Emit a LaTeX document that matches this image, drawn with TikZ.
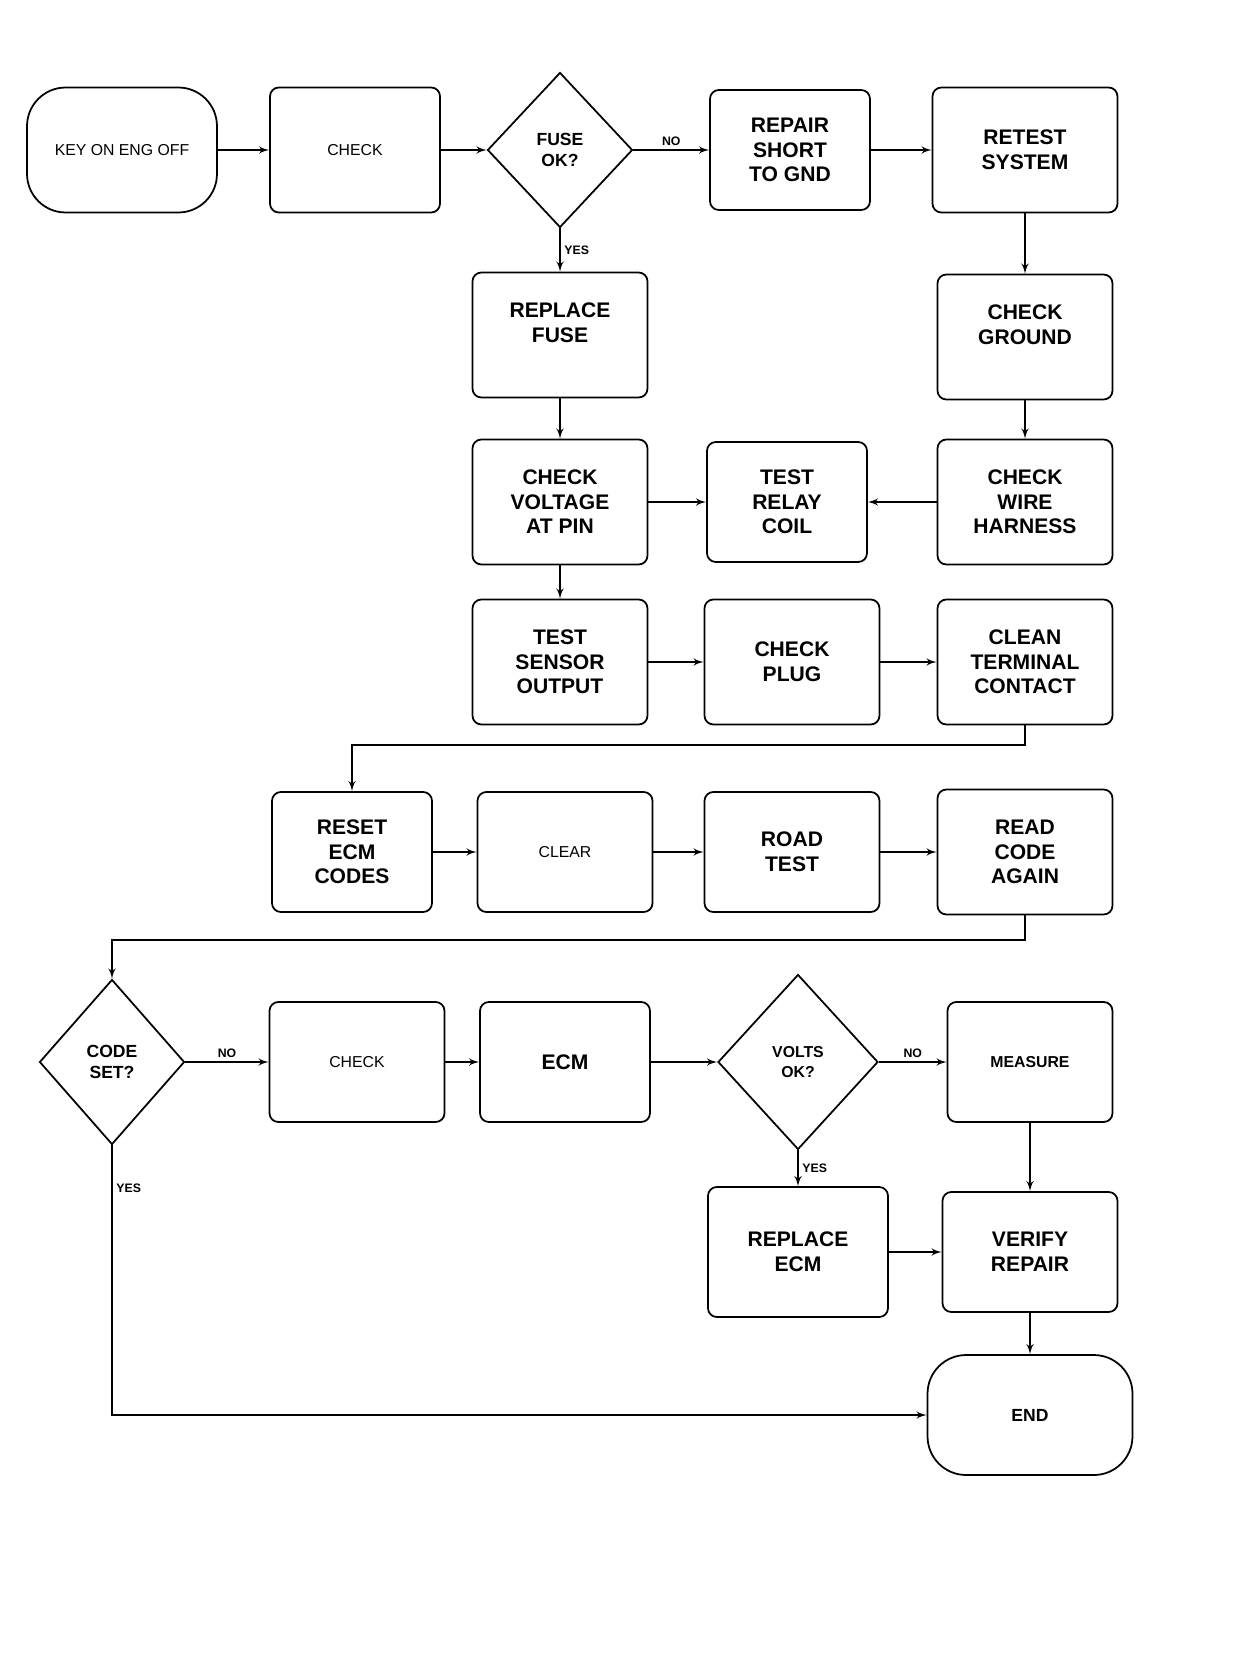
\documentclass[tikz,border=0pt]{standalone}
\usepackage{fontspec}
\setsansfont{Liberation Sans}
\usetikzlibrary{positioning,arrows,shapes.geometric}
\tikzset{
    block/.style = {
        draw,
        shape=rectangle,
        rounded corners=5pt,
        minimum height=2.5cm,
        minimum width=3.5cm,
        line width=1pt,
        align=center,
        font=\sffamily\bfseries\large
    },
    narrow/.style = {
        block,
        minimum width=3.2cm,
        minimum height=2.4cm
    },
    lightblock/.style = {
        block,
        font=\sffamily\small
    },
    terminal/.style = {
        block,
        rounded corners=22pt,
        minimum width=3.8cm,
        minimum height=2.5cm,
        font=\sffamily\bfseries
    },
    decision/.style = {
        draw,
        shape=diamond,
        minimum width=2.9cm,
        minimum height=3.1cm,
        inner sep=0pt,
        line width=1pt,
        align=center,
        font=\sffamily\bfseries
    },
    lbl/.style = {
        font=\sffamily\bfseries\scriptsize,
        inner sep=2pt
    },
    >=latex',
}
\begin{document}
\begin{tikzpicture}[x=0.02cm, y=-0.02cm]
    \useasboundingbox (0,0) rectangle (1257,1673);

    % first row
    \node[terminal, font=\sffamily\small] (keyon) at (122,150) {KEY ON  ENG OFF};
    \node[lightblock, minimum width=3.4cm] (look) at (355,150) {CHECK};
    \node[decision] (okone) at (560,150) {FUSE\\OK?};
    \node[narrow] (repair) at (790,150) {REPAIR\\SHORT\\TO GND};
    \node[block, minimum width=3.7cm] (retest) at (1025,150) {RETEST\\SYSTEM};

    % column under first decision
    \node[block] (fuse) at (560,335) {REPLACE\\FUSE\\ };
    \node[block] (ground) at (1025,337) {CHECK\\GROUND\\ };

    \node[block] (volts) at (560,502) {CHECK\\VOLTAGE\\AT PIN};
    \node[narrow] (relay) at (787,502) {TEST\\RELAY\\COIL};
    \node[block] (wire) at (1025,502) {CHECK\\WIRE\\HARNESS};

    \node[block] (sensor) at (560,662) {TEST\\SENSOR\\OUTPUT};
    \node[block] (plug) at (792,662) {CHECK\\PLUG};
    \node[block] (contact) at (1025,662) {CLEAN\\TERMINAL\\CONTACT};

    % middle row
    \node[narrow] (reset) at (352,852) {RESET\\ECM\\CODES};
    \node[lightblock, minimum height=2.4cm] (clear) at (565,852) {CLEAR};
    \node[block, minimum height=2.4cm] (drive) at (792,852) {ROAD\\TEST};
    \node[block] (code) at (1025,852) {READ\\CODE\\AGAIN};

    % lower rows
    \node[decision, minimum height=3.3cm] (oktwo) at (112,1062) {CODE\\SET?};
    \node[lightblock, minimum height=2.4cm] (check) at (357,1062) {CHECK};
    \node[block, minimum width=3.4cm, minimum height=2.4cm] (ecm) at (565,1062) {ECM};
    \node[decision, minimum width=3.2cm, minimum height=3.5cm, font=\sffamily\bfseries\small] (okthree) at (798,1062) {VOLTS\\OK?};
    \node[block, minimum width=3.3cm, minimum height=2.4cm, font=\sffamily\bfseries\small] (measure) at (1030,1062) {MEASURE};

    \node[block, minimum width=3.6cm, minimum height=2.6cm] (replace) at (798,1252) {REPLACE\\ECM};
    \node[block, minimum height=2.4cm] (verify) at (1030,1252) {VERIFY\\REPAIR};
    \node[terminal, minimum width=4.1cm, minimum height=2.4cm] (finish) at (1030,1415) {END};

    \coordinate (turnone) at (352,745);
    \coordinate (turntwo) at (112,940);

    \path[draw, line width=1pt, ->] (keyon) -- (look);
    \path[draw, line width=1pt, ->] (look) -- (okone);
    \path[draw, line width=1pt, ->] (okone) -- node[lbl, above] {NO} (repair);
    \path[draw, line width=1pt, ->] (okone) -- node[lbl, right] {YES} (fuse);
    \path[draw, line width=1pt, ->] (repair) -- (retest);
    \path[draw, line width=1pt, ->] (retest) -- (ground);
    \path[draw, line width=1pt, ->] (ground) -- (wire);
    \path[draw, line width=1pt, ->] (fuse) -- (volts);
    \path[draw, line width=1pt, ->] (volts) -- (relay);
    \path[draw, line width=1pt, ->] (wire) -- (relay);
    \path[draw, line width=1pt, ->] (volts) -- (sensor);
    \path[draw, line width=1pt, ->] (sensor) -- (plug);
    \path[draw, line width=1pt, ->] (plug) -- (contact);
    \path[draw, line width=1pt, ->] (contact.south) |- (turnone) -- (reset.north);
    \path[draw, line width=1pt, ->] (reset) -- (clear);
    \path[draw, line width=1pt, ->] (clear) -- (drive);
    \path[draw, line width=1pt, ->] (drive) -- (code);
    \path[draw, line width=1pt, ->] (code.south) |- (turntwo) -- (oktwo.north);
    \path[draw, line width=1pt, ->] (oktwo) -- node[lbl, above] {NO} (check);
    \path[draw, line width=1pt, ->] (check) -- (ecm);
    \path[draw, line width=1pt, ->] (ecm) -- (okthree);
    \path[draw, line width=1pt, ->] (okthree) -- node[lbl, above] {NO} (measure);
    \path[draw, line width=1pt, ->] (okthree) -- node[lbl, right] {YES} (replace);
    \path[draw, line width=1pt, ->] (measure) -- (verify);
    \path[draw, line width=1pt, ->] (replace) -- (verify);
    \path[draw, line width=1pt, ->] (verify) -- (finish);
    \path[draw, line width=1pt, ->] (oktwo.south) |- node[lbl, pos=0.08, right] {YES} (finish.west);
\end{tikzpicture}
\end{document}
